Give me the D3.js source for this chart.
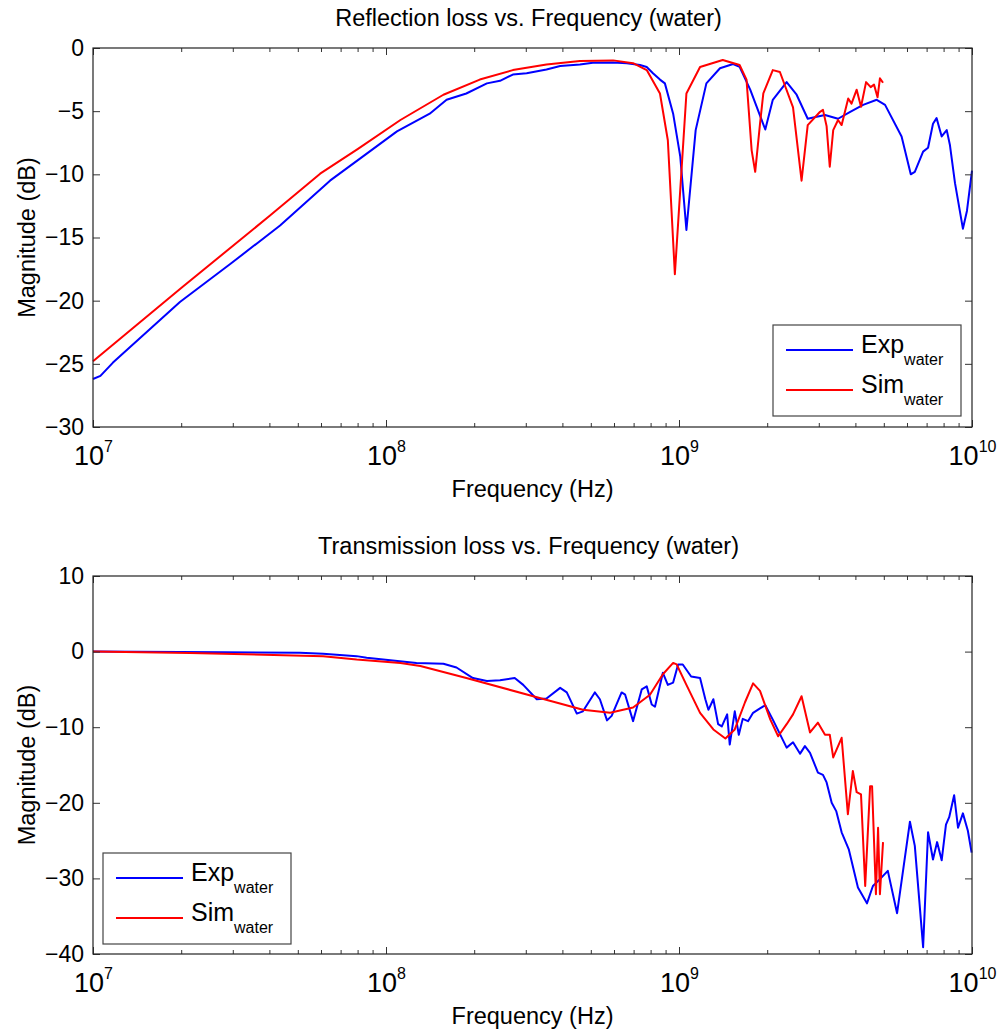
<!DOCTYPE html>
<html>
<head>
<meta charset="utf-8">
<script src="https://cdn.jsdelivr.net/npm/d3@7"></script>
<style>
body { margin: 0; background: #fff; }
svg { display: block; font-family: "Liberation Sans", Arial, sans-serif; }
</style>
</head>
<body>
<svg id="chart" width="1003" height="1032"></svg>
<script>
// reflection loss, experiment (Hz, dB)
var reflExpFreq = [1.0e7, 1.06e7, 1.17e7, 1.98e7, 2.94e7, 4.35e7, 6.44e7, 8.55e7, 1.09e8, 1.41e8, 1.61e8, 1.88e8,
    2.21e8, 2.45e8, 2.71e8, 3.02e8, 3.53e8, 3.93e8, 4.59e8, 5.08e8, 5.96e8, 6.64e8, 7.36e8, 7.76e8, 8.15e8, 8.61e8,
    8.95e8, 9.55e8, 1.01e9, 1.06e9, 1.14e9, 1.24e9, 1.38e9, 1.53e9, 1.61e9, 1.75e9, 1.97e9, 2.09e9, 2.33e9, 2.52e9,
    2.75e9, 2.95e9, 3.15e9, 3.49e9, 3.84e9, 4.25e9, 4.73e9, 5.05e9, 5.75e9, 6.18e9, 6.38e9, 6.81e9, 7.08e9, 7.36e9,
    7.57e9, 7.88e9, 8.20e9, 8.41e9, 8.75e9, 9.31e9, 9.61e9, 1.0e10];
var reflExp = [-26.2, -25.95, -24.9, -20.1, -17.1, -14.05, -10.5, -8.4, -6.6, -5.2, -4.1, -3.6,
    -2.8, -2.6, -2.1, -2.0, -1.7, -1.43, -1.3, -1.17, -1.14, -1.2, -1.35, -1.5, -2.0, -2.5,
    -2.8, -5.2, -8.6, -14.4, -6.5, -2.8, -1.6, -1.27, -1.5, -3.3, -6.45, -4.1, -2.7, -3.7,
    -5.6, -5.45, -5.3, -5.6, -5.05, -4.5, -4.1, -4.5, -7.0, -10.0, -9.8, -8.2, -7.9, -6.0,
    -5.55, -7.0, -6.5, -7.7, -10.7, -14.3, -12.9, -9.7];

// reflection loss, simulation
var reflSimFreq = [1.0e7, 2.0e7, 4.0e7, 5.96e7, 8.0e7, 1.12e8, 1.57e8, 2.09e8, 2.71e8, 3.53e8, 4.59e8, 5.96e8,
    6.97e8, 7.76e8, 8.61e8, 9.16e8, 9.68e8, 1.06e9, 1.18e9, 1.41e9, 1.61e9, 1.70e9, 1.77e9, 1.82e9, 1.89e9,
    1.94e9, 2.09e9, 2.21e9, 2.45e9, 2.62e9, 2.75e9, 3.03e9, 3.10e9, 3.19e9, 3.27e9, 3.36e9, 3.49e9, 3.59e9,
    3.78e9, 3.88e9, 4.04e9, 4.18e9, 4.35e9, 4.51e9, 4.63e9, 4.76e9, 4.85e9, 4.97e9];
var reflSim = [-24.8, -19.0, -13.3, -9.95, -8.0, -5.7, -3.7, -2.5, -1.75, -1.3, -1.03, -0.98,
    -1.2, -1.75, -3.6, -7.3, -17.9, -3.6, -1.5, -0.95, -1.35, -2.5, -8.1, -9.8, -6.0,
    -3.6, -1.75, -1.9, -4.7, -10.5, -6.1, -5.05, -4.9, -6.2, -9.4, -6.5, -5.7, -6.1,
    -4.0, -4.4, -3.3, -4.65, -2.7, -3.1, -2.9, -3.9, -2.4, -2.75];

// transmission loss, experiment
var transExpFreq = [1.0e7, 2.78e7, 5.08e7, 6.10e7, 7.94e7, 8.59e7, 1.27e8, 1.57e8, 1.74e8, 1.98e8, 2.21e8, 2.45e8,
    2.75e8, 2.94e8, 3.27e8, 3.53e8, 3.93e8, 4.14e8, 4.48e8, 4.70e8, 5.16e8, 5.37e8, 5.68e8, 5.89e8, 6.37e8,
    6.55e8, 6.97e8, 7.46e8, 7.76e8, 8.07e8, 8.28e8, 8.81e8, 9.16e8, 9.55e8, 9.93e8, 1.03e9, 1.10e9, 1.18e9,
    1.23e9, 1.26e9, 1.31e9, 1.36e9, 1.40e9, 1.46e9, 1.49e9, 1.55e9, 1.60e9, 1.65e9, 1.72e9, 1.79e9, 1.89e9,
    1.97e9, 2.09e9, 2.33e9, 2.45e9, 2.59e9, 2.69e9, 2.80e9, 2.98e9, 3.10e9, 3.19e9, 3.32e9, 3.44e9, 3.59e9,
    3.80e9, 4.08e9, 4.38e9, 4.59e9, 4.85e9, 5.16e9, 5.55e9, 6.14e9, 6.38e9, 6.81e9, 7.08e9, 7.36e9, 7.60e9,
    7.88e9, 8.15e9, 8.36e9, 8.69e9, 8.96e9, 9.31e9, 9.68e9, 9.97e9];
var transExp = [0.0, -0.1, -0.15, -0.3, -0.6, -0.8, -1.5, -1.6, -2.1, -3.5, -3.9, -3.8,
    -3.5, -4.4, -6.3, -6.2, -4.8, -5.4, -8.2, -7.9, -5.4, -6.3, -9.1, -8.5, -5.4,
    -5.7, -9.2, -5.0, -4.6, -7.0, -7.3, -2.8, -4.4, -4.1, -1.7, -1.7, -3.3, -3.5,
    -6.3, -7.7, -6.3, -9.6, -9.9, -8.3, -12.3, -7.9, -11.0, -8.9, -9.2, -8.1, -7.5,
    -7.1, -9.0, -12.7, -12.0, -13.5, -12.5, -13.4, -16.0, -16.3, -17.3, -20.0, -21.1, -23.9,
    -26.2, -31.2, -33.3, -31.0, -30.1, -29.0, -34.6, -22.5, -25.7, -39.1, -23.9, -27.5, -25.2,
    -27.6, -22.9, -21.9, -19.0, -23.3, -21.4, -23.7, -26.6];

// transmission loss, simulation
var transSimFreq = [1.0e7, 2.14e7, 6.10e7, 7.94e7, 1.12e8, 1.31e8, 1.88e8, 3.18e8, 4.70e8, 5.82e8, 6.97e8, 7.96e8,
    8.81e8, 9.55e8, 9.82e8, 1.06e9, 1.18e9, 1.31e9, 1.44e9, 1.55e9, 1.68e9, 1.79e9, 1.89e9, 2.05e9, 2.18e9,
    2.33e9, 2.45e9, 2.62e9, 2.80e9, 2.98e9, 3.15e9, 3.27e9, 3.36e9, 3.59e9, 3.77e9, 3.92e9, 4.04e9, 4.18e9,
    4.32e9, 4.49e9, 4.56e9, 4.70e9, 4.78e9, 4.85e9, 4.97e9];
var transSim = [0.0, -0.2, -0.6, -1.05, -1.5, -1.9, -3.5, -5.9, -7.7, -8.1, -7.4, -5.7,
    -3.0, -1.5, -1.7, -4.4, -8.1, -10.3, -11.5, -10.3, -6.7, -4.2, -5.2, -9.0, -11.2,
    -9.6, -8.3, -5.9, -10.7, -9.4, -11.0, -11.0, -14.0, -11.4, -21.5, -15.8, -18.6, -18.9,
    -31.0, -17.8, -17.8, -32.1, -23.3, -32.1, -25.2];

var xMajor = [1e7, 1e8, 1e9, 1e10];
var reflTicks = [0, -5, -10, -15, -20, -25, -30];
var transTicks = [10, 0, -10, -20, -30, -40];

var svg = d3.select("#chart");
var left = 93, right = 972;

// minor ticks 2..9 in each decade
var xMinor = [];
[1e7, 1e8, 1e9].forEach(function (d) {
    for (var k = 2; k <= 9; k++) xMinor.push(d * k);
});

function zip(f, v) {
    return f.map(function (d, i) { return [d, v[i]]; });
}

function drawPanel(opt) {
    var h = opt.bottom - opt.top;
    var x = d3.scaleLog().domain([1e7, 1e10]).range([0, right - left]);
    var y = d3.scaleLinear().domain(opt.yDomain).range([h, 0]);
    var g = svg.append("g").attr("transform", "translate(" + left + "," + opt.top + ")");

    var line = d3.line()
        .x(function (d) { return x(d[0]); })
        .y(function (d) { return y(d[1]); });

    g.append("path").datum(zip(opt.expF, opt.exp))
        .attr("fill", "none").attr("stroke", "#0000ff").attr("stroke-width", 2)
        .attr("stroke-linejoin", "round").attr("d", line);
    g.append("path").datum(zip(opt.simF, opt.sim))
        .attr("fill", "none").attr("stroke", "#ff0000").attr("stroke-width", 2)
        .attr("stroke-linejoin", "round").attr("d", line);

    // axes, ticks pointing inward (matlab style)
    var w = right - left;
    var xb = g.append("g").attr("transform", "translate(0," + h + ")")
        .call(d3.axisBottom(x).tickValues(xMajor).tickSize(-7).tickPadding(0).tickSizeOuter(0));
    xb.selectAll(".tick text").each(function (d) {
        var t = d3.select(this);
        t.text("").attr("dy", null).attr("y", 38).attr("font-size", 27);
        t.append("tspan").text("10");
        t.append("tspan").attr("dy", -13).attr("font-size", 16).text(Math.round(Math.log10(d)));
    });
    g.append("g").attr("transform", "translate(0," + h + ")")
        .call(d3.axisBottom(x).tickValues(xMinor).tickSize(-4).tickFormat("").tickSizeOuter(0));
    g.append("g").call(d3.axisTop(x).tickValues(xMajor).tickSize(-7).tickFormat("").tickSizeOuter(0));
    g.append("g").call(d3.axisTop(x).tickValues(xMinor).tickSize(-4).tickFormat("").tickSizeOuter(0));

    var yl = g.append("g")
        .call(d3.axisLeft(y).tickValues(opt.yTicks).tickSize(-7).tickPadding(9).tickSizeOuter(0));
    yl.selectAll(".tick text").attr("font-size", 23).attr("fill", "#000");
    g.append("g").attr("transform", "translate(" + w + ",0)")
        .call(d3.axisRight(y).tickValues(opt.yTicks).tickSize(-7).tickFormat("").tickSizeOuter(0));

    g.selectAll(".domain").remove();
    g.selectAll(".tick line").attr("stroke", "#333");
    g.selectAll(".tick text").attr("fill", "#000").attr("font-family", "Liberation Sans, Arial, sans-serif");

    g.append("rect").attr("width", w).attr("height", h)
        .attr("fill", "none").attr("stroke", "#222").attr("stroke-width", 1.2);

    // titles and labels
    svg.append("text").attr("x", (left + right) / 2 - 4).attr("y", opt.top - 22)
        .attr("text-anchor", "middle").attr("font-size", 23.5).text(opt.title);
    svg.append("text").attr("x", (left + right) / 2).attr("y", opt.bottom + 70)
        .attr("text-anchor", "middle").attr("font-size", 23.5).text("Frequency (Hz)");
    svg.append("text")
        .attr("transform", "translate(35," + (opt.top + h / 2) + ") rotate(-90)")
        .attr("text-anchor", "middle").attr("font-size", 23.5).text("Magnitude (dB)");

    // legend
    var lg = svg.append("g").attr("transform", "translate(" + opt.legend[0] + "," + opt.legend[1] + ")");
    lg.append("rect").attr("width", 188).attr("height", 91)
        .attr("fill", "#fff").attr("stroke", "#444").attr("stroke-width", 1.2);
    var items = [["Exp", "#0000ff"], ["Sim", "#ff0000"]];
    items.forEach(function (it, i) {
        var yy = 25 + i * 40;
        lg.append("line").attr("x1", 13).attr("x2", 80).attr("y1", yy).attr("y2", yy)
            .attr("stroke", it[1]).attr("stroke-width", 2);
        var t = lg.append("text").attr("x", 88).attr("y", yy + 3).attr("font-size", 25);
        t.append("tspan").text(it[0]);
        t.append("tspan").attr("dy", 12).attr("font-size", 16).text("water");
    });
}

drawPanel({
    top: 48, bottom: 427, yDomain: [-30, 0], yTicks: reflTicks,
    expF: reflExpFreq, exp: reflExp, simF: reflSimFreq, sim: reflSim,
    title: "Reflection loss vs. Frequency (water)", legend: [773, 325]
});
drawPanel({
    top: 576, bottom: 954, yDomain: [-40, 10], yTicks: transTicks,
    expF: transExpFreq, exp: transExp, simF: transSimFreq, sim: transSim,
    title: "Transmission loss vs. Frequency (water)", legend: [103, 853]
});
</script>
</body>
</html>
